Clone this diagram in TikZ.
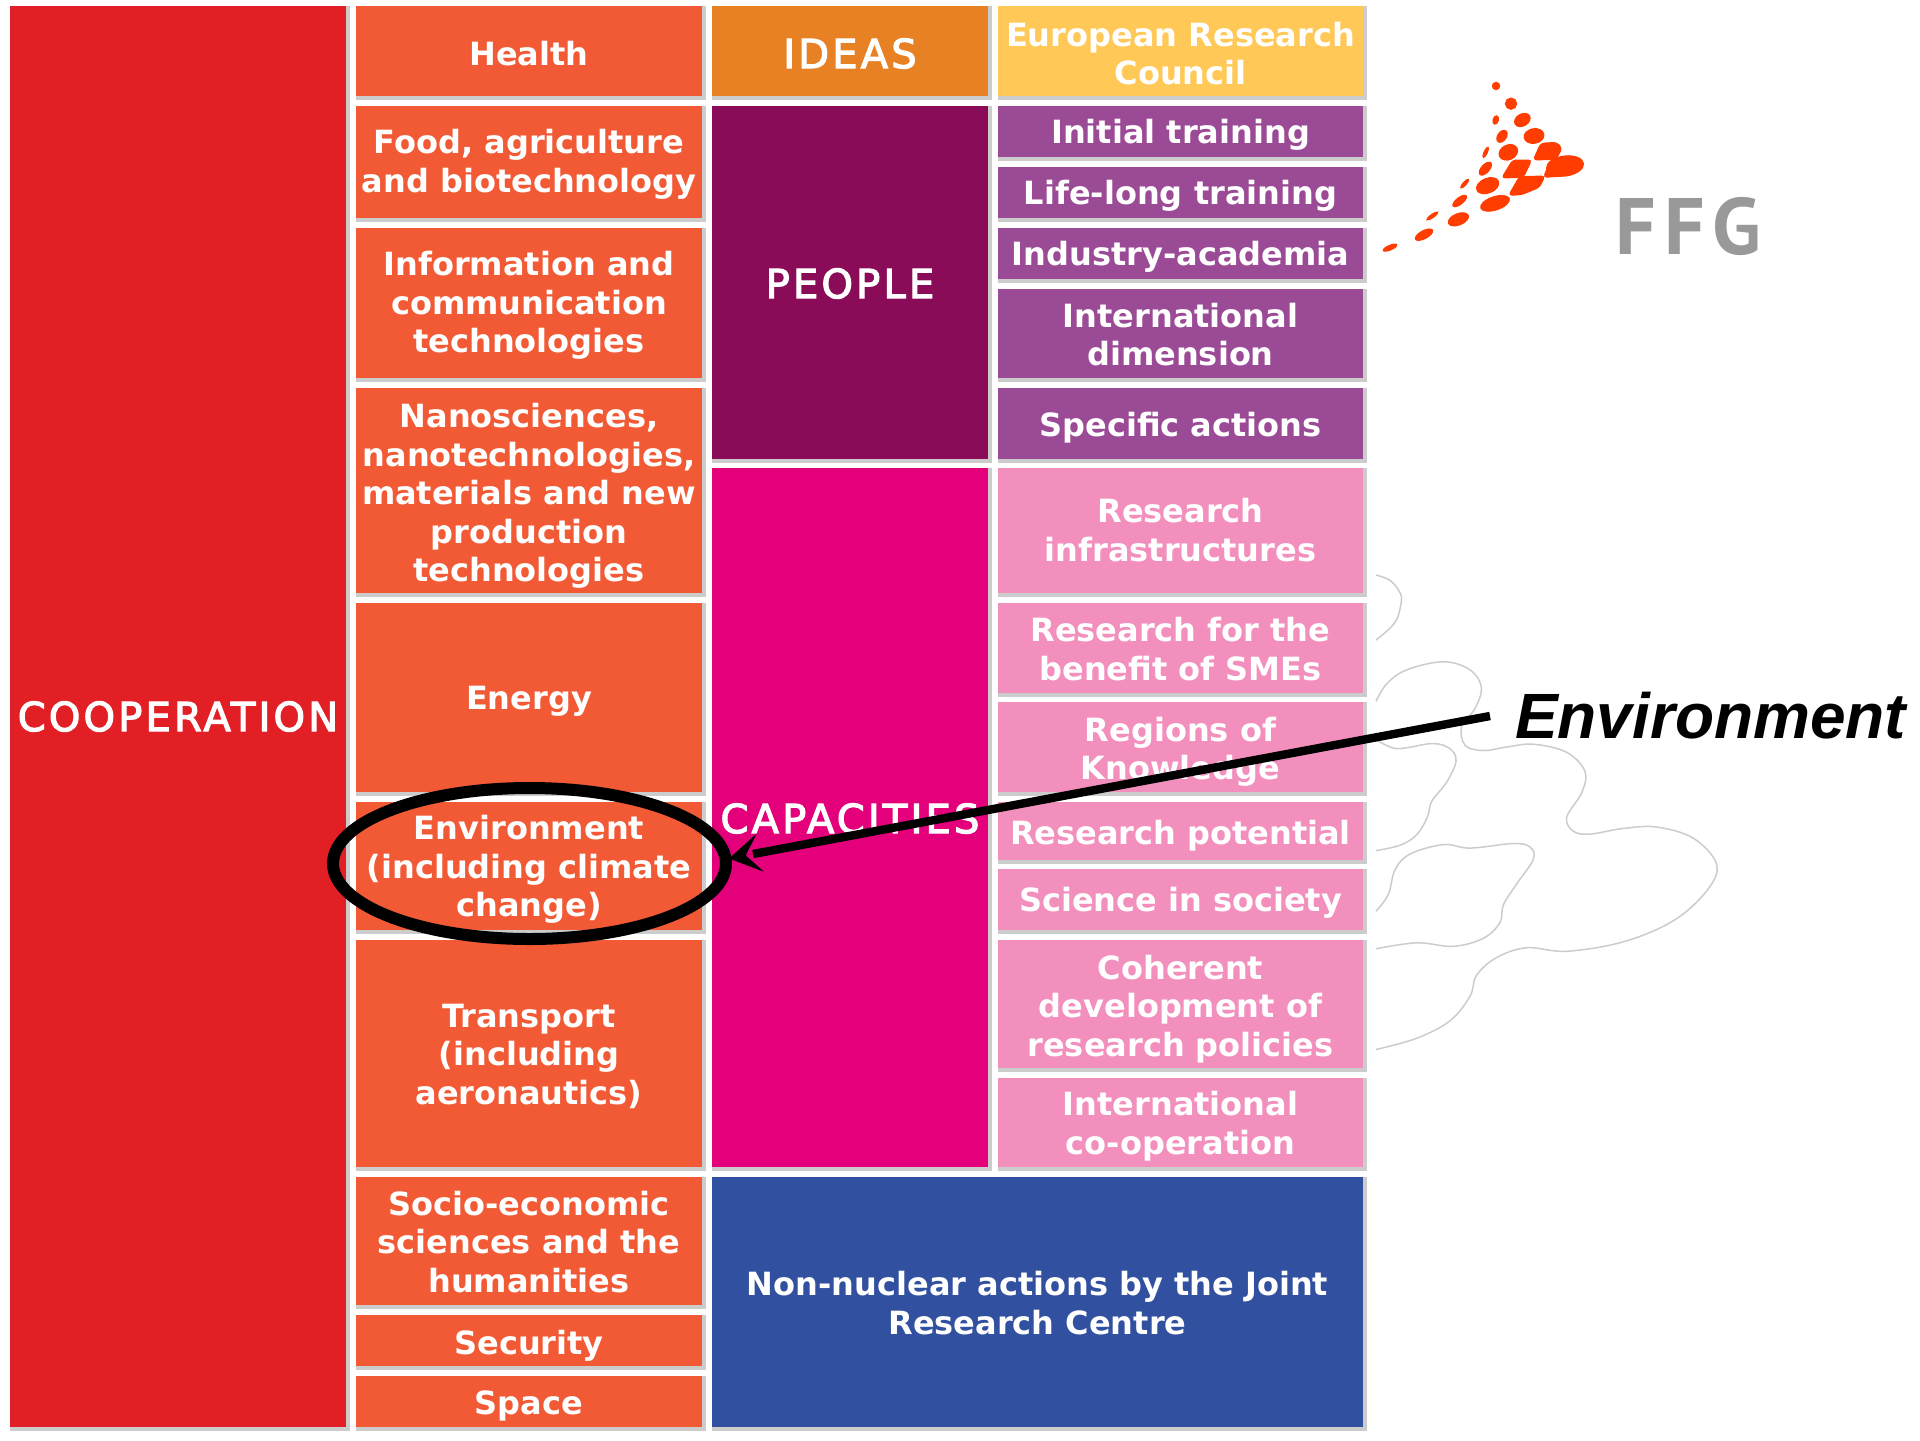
\documentclass[tikz,border=0pt]{standalone}
\usepackage{fontspec}
\usetikzlibrary{shapes.geometric,arrows.meta,calc}
\setmainfont{DejaVu Sans}
\newfontfamily\capsfont[LetterSpace=8,FakeBold=3]{DejaVu Sans}
\newfontfamily\lblfont{Liberation Sans}
\newfontfamily\ffgfont[LetterSpace=10]{PT Sans}
\definecolor{cred}{HTML}{E31F26}
\definecolor{corange}{HTML}{F15A35}
\definecolor{cideas}{HTML}{E88024}
\definecolor{cerc}{HTML}{FFC857}
\definecolor{cpeople}{HTML}{8A0B57}
\definecolor{cpurple}{HTML}{9B4A96}
\definecolor{ccap}{HTML}{E3007A}
\definecolor{cpink}{HTML}{F28FBD}
\definecolor{cblue}{HTML}{31509F}
\definecolor{cshade}{HTML}{CCCCCC}
\definecolor{clogo}{HTML}{FF3D00}
\definecolor{cffg}{HTML}{999999}
\tikzset{
  boxbase/.style={rectangle,inner sep=0pt,outer sep=0pt},
  labelbase/.style={inner sep=0pt,outer sep=0pt,text=white,align=center},
  small/.style={labelbase,font=\fontsize{16}{19.25}\selectfont\bfseries},
  big/.style={labelbase,font=\fontsize{20}{24}\selectfont\capsfont},
  shadebox/.style={fill=cshade},
  cloud/.style={draw=cshade,line width=0.75pt,line join=round},
  logoblob/.style={fill=clogo,draw=clogo,line width=0.5pt},
  logocell/.style={fill=clogo,draw=clogo,line width=0.5pt,rounded corners=1.7pt},
  ringmark/.style={ellipse,draw=black,line width=6pt,inner sep=0pt,outer sep=0pt,minimum width=196.5pt,minimum height=75.5pt},
  callout/.style={draw=black,line width=4.2pt},
  envlabel/.style={anchor=west,inner xsep=12.5pt,inner ysep=0pt,outer sep=0pt,font=\fontsize{32}{38}\selectfont\lblfont\bfseries\itshape},
}
% name, x1, y1, x2, y2, text style, fill, text drop in px, text
\newcommand\bx[9]{%
  \fill[shadebox] (#2,#3) rectangle ({#4+3.5},{#5+3.5});
  \pgfmathsetmacro\bw{(#4-#2)/2}\pgfmathsetmacro\bh{(#5-#3)/2}%
  \node[boxbase,fill=#7,minimum width=\bw pt,minimum height=\bh pt] (#1) at ({(#2+#4)/2},{(#3+#5)/2}) {};
  \node[#6] (#1-text) at ($(#1.center)+(0,#8)$) {#9};
}
\newcommand\blob[5]{\path[logoblob,rotate around={#5:(#1,#2)}] (#1,#2) ellipse ({#3} and {#4});}
\begin{document}
\begin{tikzpicture}[x=0.5pt,y=-0.5pt]
\useasboundingbox (0,0) rectangle (1920,1440);
\fill[white] (0,0) rectangle (1920,1440);
% clouds
\begin{scope}[shift={(1340,540)},x=0.16667pt,y=-0.17544pt]
\draw[cloud] plot[smooth,tension=.6] coordinates {(108,100) (150,115) (180,150) (183,180) (165,235) (108,285)};
\draw[cloud] plot[smooth,tension=.6] coordinates {(108,460) (140,410) (200,370) (310,347) (390,370) (424,420) (405,480) (365,530) (375,585) (430,600) (500,590) (580,582) (680,605) (735,660) (725,720) (680,790) (700,830) (750,838) (850,822) (950,818) (1060,850) (1130,925) (1100,1000) (1000,1085) (850,1145) (680,1172) (560,1162) (470,1190) (410,1240) (390,1300) (330,1370) (230,1420) (108,1452)};
\draw[cloud] plot[smooth,tension=.6] coordinates {(108,570) (160,593) (200,592) (280,580) (330,595) (348,630) (320,690) (275,745) (262,790) (230,840) (180,870) (108,885)};
\draw[cloud] plot[smooth,tension=.6] coordinates {(108,1058) (145,1010) (165,940) (210,895) (310,868) (390,878) (520,865) (570,875) (580,910) (530,980) (490,1040) (480,1090) (430,1135) (340,1158) (230,1148) (108,1165)};
\end{scope}
% logo
\begin{scope}[shift={(1450,70)},x=0.16667pt,y=-0.16667pt]
\blob{138}{48}{11}{11}{0}
\blob{183}{101}{17}{17}{0}
\blob{137}{150}{13}{8}{75}
\blob{217}{150}{25}{18}{30}
\blob{156}{199}{20}{13}{55}
\blob{252}{198}{30}{22}{10}
\blob{107}{247}{17}{5}{65}
\blob{175}{247}{29}{22}{25}
\blob{106}{296}{24}{12}{48}
\blob{44}{341}{17}{5}{48}
\blob{29}{393}{25}{10}{38}
\blob{113}{347}{35}{22}{22}
\blob{135}{400}{45}{20}{18}
\blob{25}{448}{32}{17}{22}
\blob{-78}{494}{29}{12}{28}
\blob{-53}{438}{20}{5}{35}
\blob{-180}{533}{22}{7}{23}
\blob{345}{288}{56}{30}{8}
\path[logocell] (272,220) -- (320,217) -- (336,235) -- (318,268) -- (250,270) -- cycle;
\path[logocell] (305,266) -- (345,264) -- (345,318) -- (280,322) -- cycle;
\path[logocell] (188,270) -- (245,270) -- (220,322) -- (155,324) -- cycle;
\path[logocell] (208,320) -- (285,318) -- (268,352) -- (215,374) -- (176,376) -- cycle;
\end{scope}
\node[anchor=base west,inner sep=0pt,text=cffg,font=\fontsize{40}{40}\selectfont\ffgfont\bfseries] (ffg) at (1615,254) {FFG};
% column 1
\bx{coop}{10}{6}{346}{1427}{big}{cred}{0}{COOPERATION}
% column 2
\bx{health}{356}{6}{702}{96}{small}{corange}{2.5}{Health}
\bx{food}{356}{106}{702}{218}{small}{corange}{2.5}{Food, agriculture\\and biotechnology}
\bx{ict}{356}{228}{702}{378}{small}{corange}{2.5}{Information and\\communication\\technologies}
\bx{nano}{356}{388}{702}{593}{small}{corange}{5.5}{Nanosciences,\\nanotechnologies,\\materials and new\\production\\technologies}
\bx{energy}{356}{603}{702}{792}{small}{corange}{3.7}{Energy}
\bx{envbox}{356}{802}{702}{930}{small}{corange}{3.7}{Environment\\(including climate\\change)}
\bx{transport}{356}{940}{702}{1167}{small}{corange}{2.5}{Transport\\(including\\aeronautics)}
\bx{socio}{356}{1177}{702}{1305}{small}{corange}{1}{Socio-economic\\sciences and the\\humanities}
\bx{security}{356}{1315}{702}{1366}{small}{corange}{4.9}{Security}
\bx{space}{356}{1376}{702}{1427}{small}{corange}{4.9}{Space}
% column 3
\bx{ideas}{712}{6}{988}{96}{big}{cideas}{2.5}{IDEAS}
\bx{people}{712}{106}{988}{459}{big}{cpeople}{1}{PEOPLE}
\bx{capacities}{712}{468}{988}{1167}{big}{ccap}{1}{CAPACITIES}
\bx{jrc}{712}{1177}{1363}{1427}{small}{cblue}{1}{Non-nuclear actions by the Joint\\Research Centre}
% column 4
\bx{erc}{998}{6}{1363}{96}{small}{cerc}{2.5}{European Research\\Council}
\bx{initial}{998}{106}{1363}{157}{small}{cpurple}{3.7}{Initial training}
\bx{life}{998}{167}{1363}{218}{small}{cpurple}{3.7}{Life-long training}
\bx{industry}{998}{228}{1363}{279}{small}{cpurple}{3.7}{Industry-academia}
\bx{intl}{998}{289}{1363}{378}{small}{cpurple}{1.2}{International\\dimension}
\bx{specific}{998}{388}{1363}{459}{small}{cpurple}{3.7}{Specific actions}
\bx{infra}{998}{468}{1363}{593}{small}{cpink}{-0.5}{Research\\infrastructures}
\bx{smes}{998}{603}{1363}{693}{small}{cpink}{1}{Research for the\\benefit of SMEs}
\bx{regions}{998}{702}{1363}{792}{small}{cpink}{5}{Regions of\\Knowledge}
\bx{potential}{998}{802}{1363}{860}{small}{cpink}{5}{Research potential}
\bx{society}{998}{869}{1363}{930}{small}{cpink}{3.7}{Science in society}
\bx{coherent}{998}{940}{1363}{1068}{small}{cpink}{4.9}{Coherent\\development of\\research policies}
\bx{intlco}{998}{1078}{1363}{1167}{small}{cpink}{3.7}{International\\co-operation}
% annotation
\node[ringmark] (ring) at (529.5,863.5) {};
\node[envlabel] (envtext) at (1490,716) {Environment};
\coordinate (arrowend) at (753,854);
\coordinate (arrowtip) at (729,858.5);
\draw[line width=0.01pt,-{Stealth[length=16pt,width=19.5pt,inset=7.5pt,line width=0pt]}] (envtext.west) -- (arrowtip);
\draw[callout] (envtext.west) -- (arrowend);
\end{tikzpicture}
\end{document}
